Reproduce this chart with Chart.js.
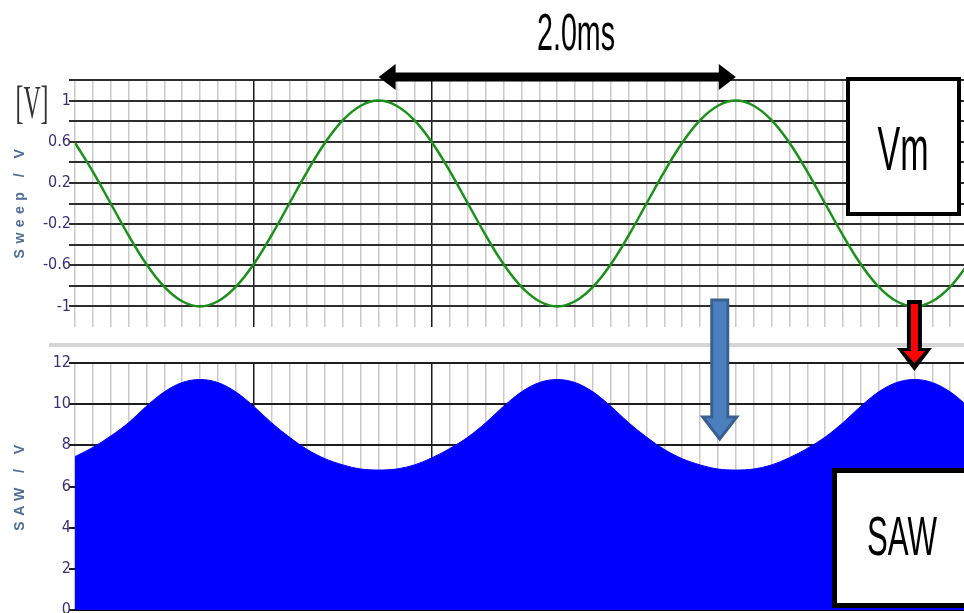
<!DOCTYPE html>
<html>
<head>
<meta charset="utf-8">
<script src="https://cdn.jsdelivr.net/npm/chart.js@4.4.1/dist/chart.umd.min.js"></script>
<style>
  html, body { margin: 0; padding: 0; background: #fff; overflow: hidden; }
  #wrap { position: relative; width: 964px; height: 613px; overflow: hidden; }
  canvas { position: absolute; left: 0; top: 0; }
</style>
</head>
<body>
<div id="wrap">
  <canvas id="sweepChart" width="968" height="613"></canvas>
  <canvas id="sawChart" width="968" height="613"></canvas>
</div>
<script>
// time axis in ms, one sample per minor grid division
let timeMs = [0.0, 0.1, 0.2, 0.3, 0.4, 0.5, 0.6, 0.7, 0.8, 0.9,
              1.0, 1.1, 1.2, 1.3, 1.4, 1.5, 1.6, 1.7, 1.8, 1.9,
              2.0, 2.1, 2.2, 2.3, 2.4, 2.5, 2.6, 2.7, 2.8, 2.9,
              3.0, 3.1, 3.2, 3.3, 3.4, 3.5, 3.6, 3.7, 3.8, 3.9,
              4.0, 4.1, 4.2, 4.3, 4.4, 4.5, 4.6, 4.7, 4.8, 4.9, 5.0]

let sweepV = [0.59, 0.31, 0.0, -0.31, -0.59, -0.81, -0.95, -1.0, -0.95, -0.81,
              -0.59, -0.31, 0.0, 0.31, 0.59, 0.81, 0.95, 1.0, 0.95, 0.81,
              0.59, 0.31, 0.0, -0.31, -0.59, -0.81, -0.95, -1.0, -0.95, -0.81,
              -0.59, -0.31, 0.0, 0.31, 0.59, 0.81, 0.95, 1.0, 0.95, 0.81,
              0.59, 0.31, 0.0, -0.31, -0.59, -0.81, -0.95, -1.0, -0.95, -0.81, -0.59]

let sawV = [7.45, 7.9, 8.45, 9.1, 9.9, 10.6, 11.05, 11.2, 11.05, 10.6,
            9.9, 9.1, 8.4, 7.8, 7.35, 7.05, 6.85, 6.8, 6.85, 7.05,
            7.4, 7.85, 8.4, 9.1, 9.9, 10.6, 11.05, 11.2, 11.05, 10.6,
            9.9, 9.1, 8.4, 7.8, 7.35, 7.05, 6.85, 6.8, 6.85, 7.05,
            7.4, 7.85, 8.4, 9.1, 9.9, 10.6, 11.05, 11.2, 11.05, 10.6, 9.9]

let sweepTicks = [1, 0.6, 0.2, -0.2, -0.6, -1]
let sawTicks = [12, 10, 8, 6, 4, 2, 0]
let majorTimes = [1, 2]

let tickFont = { family: "'Liberation Sans Narrow', 'DejaVu Sans Condensed', 'Liberation Sans'", size: 16 }

function pickTick(list, v) {
    let t = list.find(k => Math.abs(k - v) < 1e-6)
    return t === undefined ? '' : String(t)
}

function xAxis(showBorder) {
    return {
        type: 'linear', min: 0, max: 5,
        ticks: { display: false, stepSize: 0.1, autoSkip: false },
        grid: {
            drawTicks: false,
            lineWidth: 1.5,
            color: c => majorTimes.some(m => Math.abs(c.tick.value - m) < 1e-6) ? '#1a1a1a' : '#cacaca'
        },
        border: { display: showBorder, color: '#000', width: 2 },
        afterFit: s => { s.height = 0 }
    }
}

// fixed axis box so the plot area starts at the same x in both panels
function fixY(s) {
    s.width = 75
    s.paddingTop = 0
    s.paddingBottom = 0
}

function points(ys) {
    return timeMs.map((t, i) => ({ x: t, y: ys[i] }))
}

new Chart(document.getElementById('sweepChart'), {
    type: 'line',
    data: {
        datasets: [{
            label: 'Sweep',
            data: points(sweepV),
            borderColor: '#1d8f1d',
            borderWidth: 2.5,
            pointRadius: 0,
            tension: 0.4
        }]
    },
    options: {
        responsive: false,
        animation: false,
        events: [],
        layout: { padding: { top: 80, bottom: 286, left: 0, right: 0 }, autoPadding: false },
        plugins: { legend: { display: false }, tooltip: { enabled: false } },
        scales: {
            x: xAxis(false),
            y: {
                min: -1.2, max: 1.2,
                ticks: { stepSize: 0.2, autoSkip: false, color: '#3b2f72', font: tickFont, padding: -2,
                         callback: v => pickTick(sweepTicks, v) },
                grid: { lineWidth: 2, tickLength: 6,
                        color: c => c.tick.value < -1.1 ? 'rgba(0,0,0,0)' : '#2e2e2e' },
                border: { display: false },
                afterFit: fixY
            }
        }
    }
})

function arrowHead(ctx, tipX, tipY, dir, len, half) {
    ctx.beginPath()
    ctx.moveTo(tipX, tipY)
    ctx.lineTo(tipX + dir * len, tipY - half)
    ctx.lineTo(tipX + dir * len, tipY + half)
    ctx.closePath()
    ctx.fill()
}

function downArrow(ctx, cx, top, shaftHalf, headY, headHalf, tip) {
    ctx.beginPath()
    ctx.moveTo(cx - shaftHalf, top)
    ctx.lineTo(cx + shaftHalf, top)
    ctx.lineTo(cx + shaftHalf, headY)
    ctx.lineTo(cx + headHalf, headY)
    ctx.lineTo(cx, tip)
    ctx.lineTo(cx - headHalf, headY)
    ctx.lineTo(cx - shaftHalf, headY)
    ctx.closePath()
}

function squeezed(ctx, text, cx, base, font, w) {
    ctx.save()
    ctx.font = font
    let k = w / ctx.measureText(text).width
    ctx.translate(cx, base)
    ctx.scale(k, 1)
    ctx.textAlign = 'center'
    ctx.textBaseline = 'alphabetic'
    ctx.fillText(text, 0, 0)
    ctx.restore()
}

function sideTitle(ctx, text, x, y) {
    ctx.save()
    ctx.translate(x, y)
    ctx.rotate(-Math.PI / 2)
    ctx.font = 'bold 14px "Liberation Sans"'
    ctx.letterSpacing = '5.5px'
    ctx.fillStyle = '#4f6d96'
    ctx.textAlign = 'center'
    ctx.textBaseline = 'middle'
    ctx.fillText(text, 3, 0)
    ctx.restore()
}

let notes = {
    id: 'notes',
    afterDraw(chart) {
        let ctx = chart.ctx
        let x = chart.scales.x
        ctx.save()

        // gap between the panels
        ctx.fillStyle = '#d6d6d6'
        ctx.fillRect(49, 343, 920, 4)

        sideTitle(ctx, 'Sweep / V', 20, 204)
        sideTitle(ctx, 'SAW / V', 20, 488)
        ctx.fillStyle = '#333'
        squeezed(ctx, '[V]', 32, 118, '46px "Liberation Serif"', 33)

        // 2.0ms period marker, peak to peak
        let xa = x.getPixelForValue(1.7), xb = x.getPixelForValue(3.7)
        ctx.fillStyle = '#000'
        ctx.fillRect(xa + 10, 72.5, xb - xa - 20, 9)
        arrowHead(ctx, xa, 77, 1, 17, 13)
        arrowHead(ctx, xb, 77, -1, 17, 13)
        squeezed(ctx, '2.0ms', 576, 50, '52px "Liberation Sans"', 78)

        // Vm label box
        ctx.fillStyle = '#fff'
        ctx.fillRect(846, 77, 115, 139)
        ctx.strokeStyle = '#000'
        ctx.lineWidth = 4
        ctx.strokeRect(848, 79, 111, 135)
        ctx.fillStyle = '#000'
        squeezed(ctx, 'Vm', 903, 170, '63px "Liberation Sans"', 51)

        // blue arrow
        let xBlue = x.getPixelForValue(3.61)
        downArrow(ctx, xBlue, 300, 8, 417, 17, 439)
        ctx.fillStyle = '#4b7fbd'
        ctx.fill()
        ctx.strokeStyle = '#3a6090'
        ctx.lineWidth = 3
        ctx.lineJoin = 'miter'
        ctx.stroke()

        // red arrow at the SAW peak
        let xRed = x.getPixelForValue(4.7)
        downArrow(ctx, xRed, 300, 7.5, 348, 17.5, 371)
        ctx.fillStyle = '#000'
        ctx.fill()
        downArrow(ctx, xRed, 304, 3.5, 351, 11, 363)
        ctx.fillStyle = '#ff0000'
        ctx.fill()

        // SAW label box
        ctx.fillStyle = '#fff'
        ctx.fillRect(832, 468, 140, 140)
        ctx.strokeStyle = '#000'
        ctx.lineWidth = 5
        ctx.strokeRect(834.5, 470.5, 140, 135)
        ctx.fillStyle = '#000'
        squeezed(ctx, 'SAW', 902, 555, '56px "Liberation Sans"', 70)

        ctx.restore()
    }
}

new Chart(document.getElementById('sawChart'), {
    type: 'line',
    data: {
        datasets: [{
            label: 'SAW',
            data: points(sawV),
            borderColor: '#0000ff',
            backgroundColor: '#0000ff',
            borderWidth: 1,
            pointRadius: 0,
            cubicInterpolationMode: 'monotone',
            fill: 'origin'
        }]
    },
    options: {
        responsive: false,
        animation: false,
        events: [],
        layout: { padding: { top: 363, bottom: 3, left: 0, right: 0 }, autoPadding: false },
        plugins: { legend: { display: false }, tooltip: { enabled: false } },
        scales: {
            x: xAxis(true),
            y: {
                min: 0, max: 12,
                ticks: { stepSize: 2, autoSkip: false, color: '#3b2f72', font: tickFont, padding: -2,
                         callback: v => pickTick(sawTicks, v) },
                grid: { lineWidth: 2, tickLength: 6, color: '#1e1e1e' },
                border: { display: false },
                afterFit: fixY
            }
        }
    },
    plugins: [notes]
})
</script>
</body>
</html>
